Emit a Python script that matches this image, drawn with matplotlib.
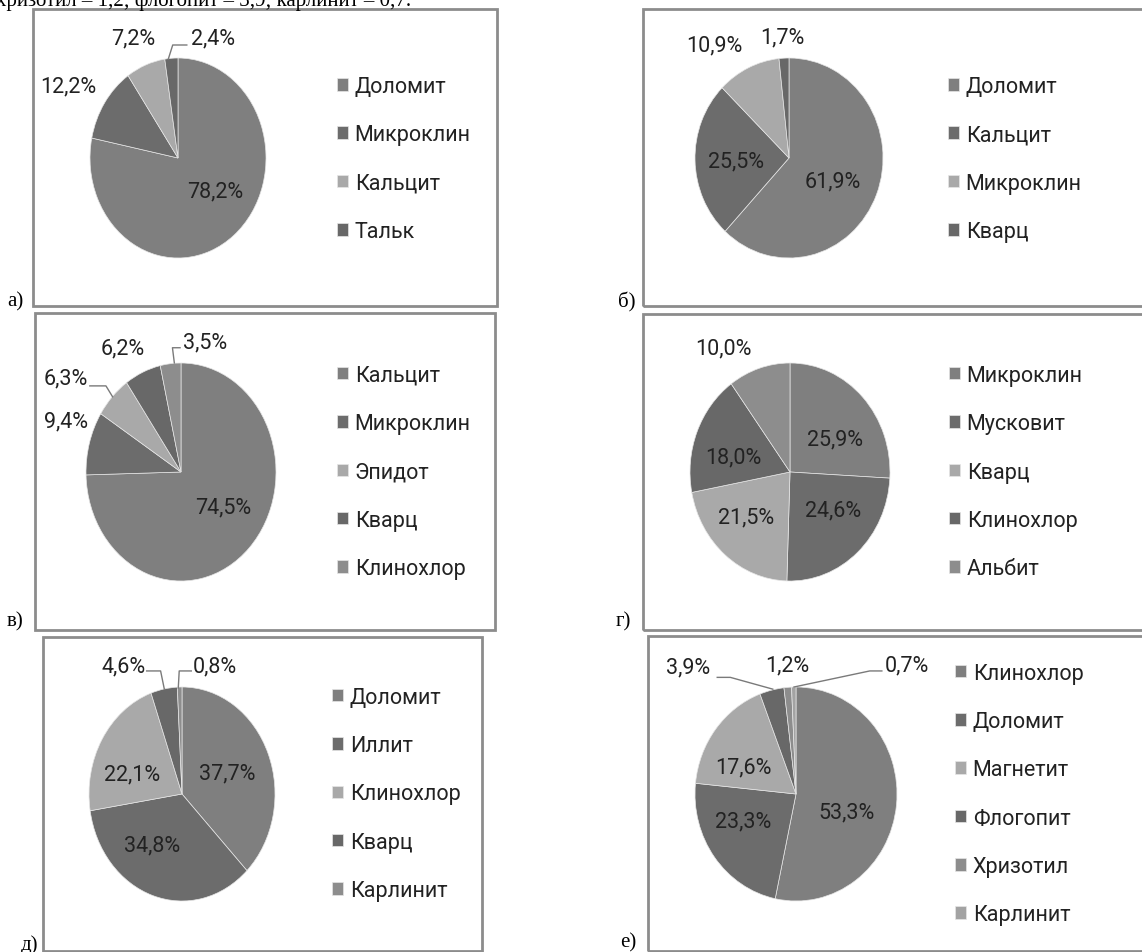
import matplotlib
matplotlib.use("Agg")
import matplotlib.pyplot as plt
from matplotlib.patches import Rectangle

W, H = 1142, 953

# ---- data ----
names_a = ["Доломит", "Микроклин", "Кальцит", "Тальк"]
vals_a = [78.2, 12.2, 7.2, 2.4]

names_b = ["Доломит", "Кальцит", "Микроклин", "Кварц"]
vals_b = [61.9, 25.5, 10.9, 1.7]

names_v = ["Кальцит", "Микроклин", "Эпидот", "Кварц", "Клинохлор"]
vals_v = [74.5, 9.4, 6.3, 6.2, 3.5]

names_g = ["Микроклин", "Мусковит", "Кварц", "Клинохлор", "Альбит"]
vals_g = [25.9, 24.6, 21.5, 18.0, 10.0]

names_d = ["Доломит", "Иллит", "Клинохлор", "Кварц", "Карлинит"]
vals_d = [37.7, 34.8, 22.1, 4.6, 0.8]

names_e = ["Клинохлор", "Доломит", "Магнетит", "Флогопит", "Хризотил", "Карлинит"]
vals_e = [53.3, 23.3, 17.6, 3.9, 1.2, 0.7]

panel_letters = ["а)", "б)", "в)", "г)", "д)", "е)"]

# grey version of the default office palette
palette = ["#7f7f7f", "#6c6c6c", "#a9a9a9", "#686868", "#8d8d8d", "#a3a3a3"]

FONT = ["Roboto", "DejaVu Sans"]
SERIF = ["Liberation Serif", "DejaVu Serif"]
FS = 15.5
TXT = "#222222"

fig = plt.figure(figsize=(W / 100, H / 100), dpi=100)


def fx(x):
    return x / W


def fy(y):
    return 1 - y / H


def fmt(v):
    return f"{v:.1f}%".replace(".", ",")


# layout of each panel, in pixels of the picture
# box, pie centre / radii, legend anchor, label spots (in pie radii), leaders, letter
panels = [
    dict(names=names_a, vals=vals_a, box=(33, 10, 497, 307), c=(178, 159), r=(88, 100),
         leg=(337, 160),
         lab=[(0.42, -0.33), (-1.25, 0.72), (-0.51, 1.20), (0.40, 1.20)],
         lead=[[(-0.11, 0.99), (-0.06, 1.13), (0.10, 1.13)]],
         let=(15, 302)),
    dict(names=names_b, vals=vals_b, box=(643, 10, 1150, 307), c=(789, 159), r=(94, 100),
         leg=(948, 160),
         lab=[(0.47, -0.23), (-0.56, -0.03), (-0.79, 1.13), (-0.07, 1.21)],
         lead=[],
         let=(627, 302)),
    dict(names=names_v, vals=vals_v, box=(35, 314, 495, 631), c=(181, 473), r=(95, 109),
         leg=(337, 473),
         lab=[(0.44, -0.32), (-1.21, 0.47), (-1.21, 0.86), (-0.61, 1.14), (0.25, 1.19)],
         lead=[[(-0.96, 0.79), (-0.79, 0.79), (-0.72, 0.69)],
               [(-0.01, 1.14), (-0.09, 1.14), (-0.07, 1.0)]],
         let=(15, 622)),
    dict(names=names_g, vals=vals_g, box=(643, 315, 1150, 631), c=(790, 473), r=(100, 109),
         leg=(949, 473),
         lab=[(0.45, 0.30), (0.43, -0.35), (-0.44, -0.41), (-0.57, 0.14), (-0.67, 1.14)],
         lead=[],
         let=(623, 622)),
    dict(names=names_d, vals=vals_d, box=(43, 638, 482, 952), c=(182, 795), r=(93, 107),
         leg=(332, 795),
         lab=[(0.49, 0.20), (-0.32, -0.48), (-0.54, 0.19), (-0.63, 1.20), (0.35, 1.20)],
         lead=[[(-0.38, 1.15), (-0.23, 1.15), (-0.19, 0.98)],
               [(0.10, 1.15), (-0.03, 1.15), (-0.04, 0.99)]],
         let=(30, 945)),
    dict(names=names_e, vals=vals_e, box=(648, 637, 1150, 952), c=(796, 795), r=(101, 107),
         leg=(955, 795),
         lab=[(0.50, -0.17), (-0.52, -0.25), (-0.52, 0.25), (-1.07, 1.19), (-0.09, 1.21), (1.10, 1.21)],
         lead=[[(-0.78, 1.09), (-0.65, 1.09), (-0.23, 0.98)],
               [(0.85, 1.15), (0.73, 1.15), (-0.02, 1.0)]],
         let=(628, 943)),
]

for p, letter in zip(panels, panel_letters):
    x0, y0, x1, y1 = p["box"]
    fig.patches.append(Rectangle((fx(x0), fy(y1)), (x1 - x0) / W, (y1 - y0) / H,
                                 transform=fig.transFigure, fill=False,
                                 edgecolor="#8c8c8c", linewidth=2))
    fig.text(fx(p["let"][0]), fy(p["let"][1]), letter, ha="center", va="center",
             fontsize=15, family=SERIF, color="black")

    cx, cy = p["c"]
    rx, ry = p["r"]
    ax = fig.add_axes([fx(cx - rx), fy(cy + ry), 2 * rx / W, 2 * ry / H])
    wedges, _ = ax.pie(p["vals"], colors=palette[:len(p["vals"])], startangle=90,
                       counterclock=False,
                       wedgeprops=dict(edgecolor="#e6e6e6", linewidth=0.5))
    ax.set_aspect("auto")
    ax.set_xlim(-1, 1)
    ax.set_ylim(-1, 1)
    ax.axis("off")

    for v, (lx, ly) in zip(p["vals"], p["lab"]):
        ax.text(lx, ly, fmt(v), ha="center", va="center", fontsize=FS,
                family=FONT, color=TXT, clip_on=False)
    for seg in p["lead"]:
        ax.plot([s[0] for s in seg], [s[1] for s in seg], color="#7a7a7a",
                linewidth=1, clip_on=False)

    ax.legend(wedges, p["names"], loc="center left",
              bbox_to_anchor=(fx(p["leg"][0]), fy(p["leg"][1])),
              bbox_transform=fig.transFigure, frameon=False, borderpad=0,
              borderaxespad=0, handlelength=0.52, handleheight=0.52,
              handletextpad=0.3, labelspacing=1.27,
              prop=dict(family=FONT, size=FS), labelcolor=TXT)

# line of the page text above, cut by the crop
fig.text(fx(-4), fy(6), "хризотил – 1,2; флогопит – 3,9; карлинит – 0,7.",
         ha="left", va="baseline", fontsize=15, family=SERIF, color="black")

fig.savefig("out.png", dpi=100, facecolor="white")
